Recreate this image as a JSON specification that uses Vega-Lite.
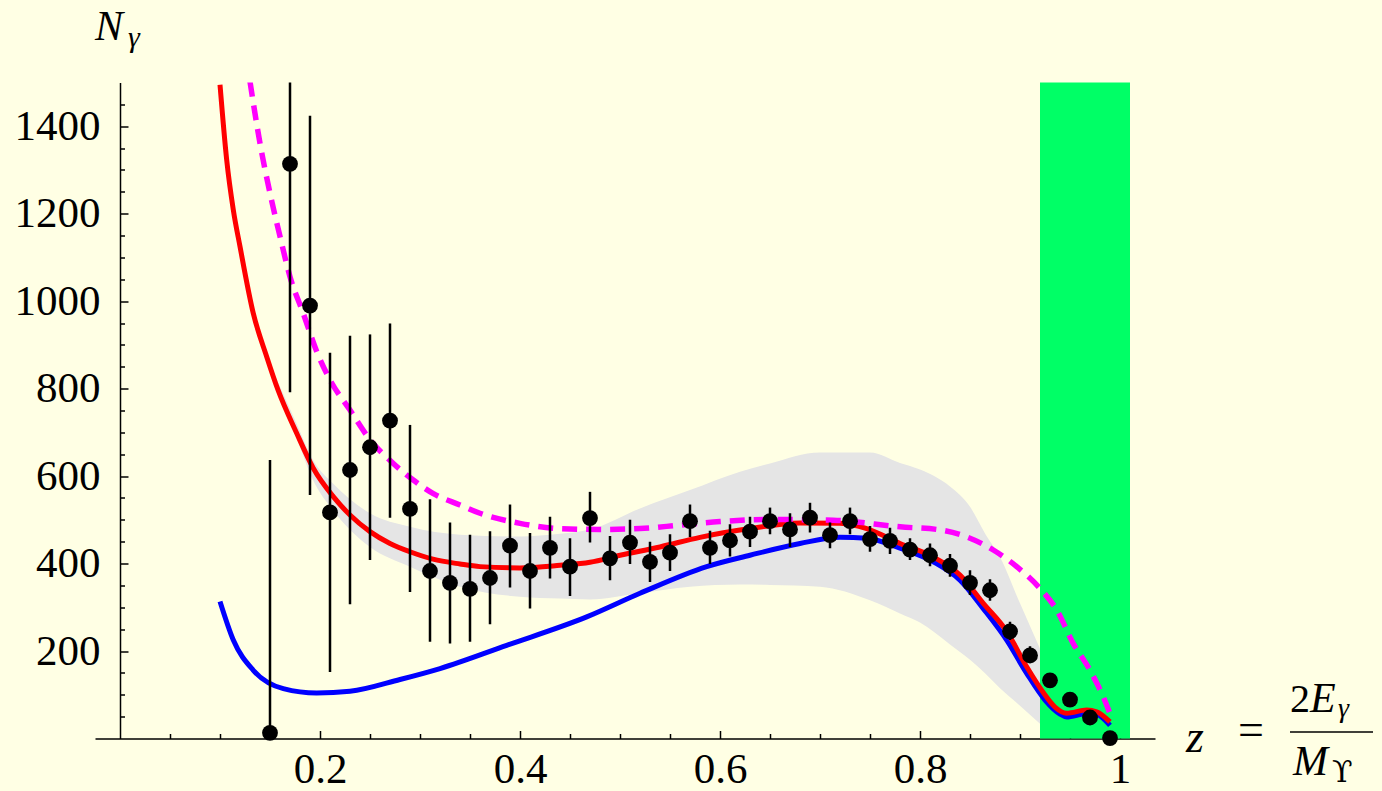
{
  "$schema": "https://vega.github.io/schema/vega-lite/v6.json",
  "width": 1060,
  "height": 656,
  "autosize": "none",
  "padding": {"left": 95, "top": 82.5, "right": 227, "bottom": 52.5},
  "background": "#ffffe4",
  "config": {"view": {"stroke": null}, "font": "Liberation Serif"},
  "resolve": {"axis": {"x": "independent", "y": "independent"}},
  "datasets": {
    "points": [
      {"z": 0.15, "n": 13, "lo": -611, "hi": 637},
      {"z": 0.17, "n": 1314, "lo": 792, "hi": 1836},
      {"z": 0.19, "n": 990, "lo": 557, "hi": 1424},
      {"z": 0.21, "n": 517, "lo": 152, "hi": 882},
      {"z": 0.23, "n": 614, "lo": 307, "hi": 921},
      {"z": 0.25, "n": 666, "lo": 408, "hi": 924},
      {"z": 0.27, "n": 727, "lo": 505, "hi": 949},
      {"z": 0.29, "n": 525, "lo": 335, "hi": 717},
      {"z": 0.31, "n": 383, "lo": 221, "hi": 547},
      {"z": 0.33, "n": 356, "lo": 217, "hi": 494},
      {"z": 0.35, "n": 342, "lo": 221, "hi": 466},
      {"z": 0.37, "n": 367, "lo": 261, "hi": 474},
      {"z": 0.39, "n": 441, "lo": 345, "hi": 535},
      {"z": 0.41, "n": 383, "lo": 297, "hi": 470},
      {"z": 0.43, "n": 436, "lo": 366, "hi": 507},
      {"z": 0.45, "n": 393, "lo": 326, "hi": 458},
      {"z": 0.47, "n": 504, "lo": 448, "hi": 564},
      {"z": 0.49, "n": 412, "lo": 362, "hi": 463},
      {"z": 0.51, "n": 448, "lo": 399, "hi": 500},
      {"z": 0.53, "n": 404, "lo": 358, "hi": 450},
      {"z": 0.55, "n": 425, "lo": 383, "hi": 467},
      {"z": 0.57, "n": 497, "lo": 461, "hi": 535},
      {"z": 0.59, "n": 436, "lo": 399, "hi": 475},
      {"z": 0.61, "n": 453, "lo": 416, "hi": 490},
      {"z": 0.63, "n": 473, "lo": 438, "hi": 507},
      {"z": 0.65, "n": 497, "lo": 467, "hi": 528},
      {"z": 0.67, "n": 478, "lo": 438, "hi": 515},
      {"z": 0.69, "n": 505, "lo": 471, "hi": 539},
      {"z": 0.71, "n": 465, "lo": 435, "hi": 494},
      {"z": 0.73, "n": 497, "lo": 467, "hi": 528},
      {"z": 0.75, "n": 456, "lo": 427, "hi": 486},
      {"z": 0.77, "n": 452, "lo": 422, "hi": 482},
      {"z": 0.79, "n": 432, "lo": 408, "hi": 458},
      {"z": 0.81, "n": 419, "lo": 394, "hi": 446},
      {"z": 0.83, "n": 395, "lo": 370, "hi": 422},
      {"z": 0.85, "n": 356, "lo": 328, "hi": 385},
      {"z": 0.87, "n": 339, "lo": 315, "hi": 364},
      {"z": 0.89, "n": 245, "lo": 225, "hi": 267},
      {"z": 0.91, "n": 190, "lo": 172, "hi": 211},
      {"z": 0.93, "n": 133, "lo": 125, "hi": 141},
      {"z": 0.95, "n": 89, "lo": 82, "hi": 96},
      {"z": 0.97, "n": 48, "lo": 42, "hi": 54},
      {"z": 0.99, "n": 1, "lo": -4, "hi": 6}
    ],
    "band": [
      {"z": 0.155, "lo": 800, "hi": 830},
      {"z": 0.177, "lo": 685, "hi": 718},
      {"z": 0.193, "lo": 591, "hi": 637},
      {"z": 0.213, "lo": 522, "hi": 583},
      {"z": 0.25, "lo": 438, "hi": 515},
      {"z": 0.29, "lo": 393, "hi": 484},
      {"z": 0.34, "lo": 347, "hi": 466},
      {"z": 0.4, "lo": 324, "hi": 462},
      {"z": 0.44, "lo": 320, "hi": 468},
      {"z": 0.47, "lo": 318, "hi": 478},
      {"z": 0.52, "lo": 332, "hi": 526},
      {"z": 0.57, "lo": 347, "hi": 568},
      {"z": 0.62, "lo": 352, "hi": 610},
      {"z": 0.65, "lo": 351, "hi": 629},
      {"z": 0.7, "lo": 347, "hi": 654},
      {"z": 0.75, "lo": 316, "hi": 654},
      {"z": 0.78, "lo": 286, "hi": 630},
      {"z": 0.8, "lo": 265, "hi": 615},
      {"z": 0.83, "lo": 215, "hi": 576},
      {"z": 0.85, "lo": 180, "hi": 530},
      {"z": 0.865, "lo": 149, "hi": 469},
      {"z": 0.88, "lo": 115, "hi": 415},
      {"z": 0.9, "lo": 75, "hi": 309},
      {"z": 0.92, "lo": 34, "hi": 205}
    ],
    "window": [{"z0": 0.92, "z1": 1.01}],
    "curves": [
      {"model": "full", "z": 0.1, "n": 1495},
      {"model": "full", "z": 0.1067, "n": 1323},
      {"model": "full", "z": 0.1133, "n": 1209},
      {"model": "full", "z": 0.12, "n": 1125},
      {"model": "full", "z": 0.1333, "n": 972},
      {"model": "full", "z": 0.1467, "n": 873},
      {"model": "full", "z": 0.158, "n": 797},
      {"model": "full", "z": 0.1767, "n": 698},
      {"model": "full", "z": 0.1933, "n": 618},
      {"model": "full", "z": 0.2133, "n": 553},
      {"model": "full", "z": 0.23, "n": 511},
      {"model": "full", "z": 0.25, "n": 473},
      {"model": "full", "z": 0.27, "n": 446},
      {"model": "full", "z": 0.29, "n": 427},
      {"model": "full", "z": 0.313, "n": 410},
      {"model": "full", "z": 0.34, "n": 399},
      {"model": "full", "z": 0.36, "n": 393},
      {"model": "full", "z": 0.4, "n": 390},
      {"model": "full", "z": 0.44, "n": 396},
      {"model": "full", "z": 0.47, "n": 403},
      {"model": "full", "z": 0.5, "n": 419},
      {"model": "full", "z": 0.54, "n": 438},
      {"model": "full", "z": 0.58, "n": 460},
      {"model": "full", "z": 0.63, "n": 480},
      {"model": "full", "z": 0.68, "n": 493},
      {"model": "full", "z": 0.72, "n": 492},
      {"model": "full", "z": 0.7467, "n": 480},
      {"model": "full", "z": 0.78, "n": 446},
      {"model": "full", "z": 0.8133, "n": 415},
      {"model": "full", "z": 0.84, "n": 374},
      {"model": "full", "z": 0.8633, "n": 309},
      {"model": "full", "z": 0.8867, "n": 245},
      {"model": "full", "z": 0.9067, "n": 164},
      {"model": "full", "z": 0.9233, "n": 105},
      {"model": "full", "z": 0.935, "n": 72},
      {"model": "full", "z": 0.9467, "n": 58},
      {"model": "full", "z": 0.9667, "n": 65},
      {"model": "full", "z": 0.9767, "n": 61},
      {"model": "full", "z": 0.99, "n": 38},
      {"model": "singlet", "z": 0.1, "n": 313},
      {"model": "singlet", "z": 0.1133, "n": 225},
      {"model": "singlet", "z": 0.1333, "n": 156},
      {"model": "singlet", "z": 0.1633, "n": 114},
      {"model": "singlet", "z": 0.1967, "n": 104},
      {"model": "singlet", "z": 0.23, "n": 108},
      {"model": "singlet", "z": 0.28, "n": 135},
      {"model": "singlet", "z": 0.32, "n": 160},
      {"model": "singlet", "z": 0.3867, "n": 213},
      {"model": "singlet", "z": 0.4667, "n": 278},
      {"model": "singlet", "z": 0.52, "n": 332},
      {"model": "singlet", "z": 0.5867, "n": 393},
      {"model": "singlet", "z": 0.63, "n": 419},
      {"model": "singlet", "z": 0.68, "n": 446},
      {"model": "singlet", "z": 0.72, "n": 460},
      {"model": "singlet", "z": 0.7467, "n": 458},
      {"model": "singlet", "z": 0.78, "n": 435},
      {"model": "singlet", "z": 0.8133, "n": 404},
      {"model": "singlet", "z": 0.84, "n": 362},
      {"model": "singlet", "z": 0.8633, "n": 297},
      {"model": "singlet", "z": 0.8867, "n": 225},
      {"model": "singlet", "z": 0.9067, "n": 149},
      {"model": "singlet", "z": 0.925, "n": 88},
      {"model": "singlet", "z": 0.94, "n": 56},
      {"model": "singlet", "z": 0.9467, "n": 49},
      {"model": "singlet", "z": 0.9667, "n": 57},
      {"model": "singlet", "z": 0.9767, "n": 55},
      {"model": "singlet", "z": 0.99, "n": 30},
      {"model": "octet", "z": 0.13, "n": 1502},
      {"model": "octet", "z": 0.14, "n": 1361},
      {"model": "octet", "z": 0.15, "n": 1247},
      {"model": "octet", "z": 0.16, "n": 1148},
      {"model": "octet", "z": 0.17, "n": 1056},
      {"model": "octet", "z": 0.1833, "n": 972},
      {"model": "octet", "z": 0.1967, "n": 885},
      {"model": "octet", "z": 0.21, "n": 820},
      {"model": "octet", "z": 0.23, "n": 751},
      {"model": "octet", "z": 0.25, "n": 683},
      {"model": "octet", "z": 0.2733, "n": 629},
      {"model": "octet", "z": 0.2933, "n": 591},
      {"model": "octet", "z": 0.3133, "n": 560},
      {"model": "octet", "z": 0.34, "n": 534},
      {"model": "octet", "z": 0.36, "n": 515},
      {"model": "octet", "z": 0.4, "n": 492},
      {"model": "octet", "z": 0.44, "n": 480},
      {"model": "octet", "z": 0.48, "n": 478},
      {"model": "octet", "z": 0.52, "n": 480},
      {"model": "octet", "z": 0.56, "n": 488},
      {"model": "octet", "z": 0.6, "n": 496},
      {"model": "octet", "z": 0.6467, "n": 501},
      {"model": "octet", "z": 0.7133, "n": 499},
      {"model": "octet", "z": 0.78, "n": 484},
      {"model": "octet", "z": 0.82, "n": 477},
      {"model": "octet", "z": 0.8467, "n": 461},
      {"model": "octet", "z": 0.8733, "n": 431},
      {"model": "octet", "z": 0.8967, "n": 393},
      {"model": "octet", "z": 0.92, "n": 343},
      {"model": "octet", "z": 0.9367, "n": 294},
      {"model": "octet", "z": 0.9533, "n": 217},
      {"model": "octet", "z": 0.97, "n": 156},
      {"model": "octet", "z": 0.9833, "n": 95},
      {"model": "octet", "z": 0.99, "n": 57}
    ]
  },
  "layer": [
    {
      "data": {"name": "band"},
      "mark": {"type": "area", "color": "#e5e5e5", "interpolate": "monotone"},
      "encoding": {
        "x": {
          "field": "z", "type": "quantitative",
          "scale": {"domain": [-0.025, 1.035], "nice": false, "zero": false},
          "axis": {
            "title": null, "grid": false, "orient": "bottom",
            "values": [0.2, 0.4, 0.6, 0.8, 1.0], "format": ".1~f",
            "domainColor": "black", "domainWidth": 1.5,
            "tickColor": "black", "tickWidth": 1.5, "tickSize": -8,
            "labelFont": "Liberation Serif", "labelFontSize": 43, "labelColor": "black",
            "labelPadding": 18, "labelFlush": false, "labelOverlap": false, "labelBound": false
          }
        },
        "y": {
          "field": "lo", "type": "quantitative",
          "scale": {"domain": [0, 1500], "nice": false, "zero": false},
          "axis": {
            "title": null, "grid": false, "orient": "left", "offset": -25,
            "values": [200, 400, 600, 800, 1000, 1200, 1400], "format": "d",
            "domainColor": "black", "domainWidth": 1.5,
            "tickColor": "black", "tickWidth": 1.5, "tickSize": -8,
            "labelFont": "Liberation Serif", "labelFontSize": 43, "labelColor": "black",
            "labelPadding": 28, "labelOverlap": false, "labelBound": false, "labelFlush": false
          }
        },
        "y2": {"field": "hi"}
      }
    },
    {
      "data": {"name": "window"},
      "mark": {"type": "rect", "color": "#00ff66"},
      "encoding": {
        "x": {"field": "z0", "type": "quantitative", "axis": null},
        "x2": {"field": "z1"}
      }
    },
    {
      "data": {"name": "curves"},
      "transform": [{"filter": "datum.model === 'singlet'"}],
      "mark": {"type": "line", "color": "#0000ff", "strokeWidth": 5, "interpolate": "monotone", "clip": true},
      "encoding": {
        "x": {
          "field": "z", "type": "quantitative",
          "axis": {
            "title": null, "grid": false, "orient": "bottom", "domain": false, "labels": false,
            "values": [0.05, 0.1, 0.15, 0.25, 0.3, 0.35, 0.45, 0.5, 0.55, 0.65, 0.7, 0.75, 0.85, 0.9, 0.95],
            "tickColor": "black", "tickWidth": 1.5, "tickSize": -5
          }
        },
        "y": {
          "field": "n", "type": "quantitative",
          "axis": {
            "title": null, "grid": false, "orient": "left", "offset": -25, "domain": false, "labels": false,
            "values": [50, 100, 150, 250, 300, 350, 450, 500, 550, 650, 700, 750, 850, 900, 950, 1050, 1100, 1150, 1250, 1300, 1350, 1450],
            "tickColor": "black", "tickWidth": 1.5, "tickSize": -4.5
          }
        }
      }
    },
    {
      "data": {"name": "curves"},
      "transform": [{"filter": "datum.model === 'full'"}],
      "mark": {"type": "line", "color": "#ff0000", "strokeWidth": 5, "interpolate": "monotone", "clip": true},
      "encoding": {
        "x": {"field": "z", "type": "quantitative", "axis": null},
        "y": {"field": "n", "type": "quantitative", "axis": null}
      }
    },
    {
      "data": {"name": "curves"},
      "transform": [{"filter": "datum.model === 'octet'"}],
      "mark": {"type": "line", "color": "#ff00ff", "strokeWidth": 5.5, "strokeDash": [15, 9], "interpolate": "monotone", "clip": true},
      "encoding": {
        "x": {"field": "z", "type": "quantitative", "axis": null},
        "y": {"field": "n", "type": "quantitative", "axis": null}
      }
    },
    {
      "data": {"name": "points"},
      "mark": {"type": "rule", "color": "black", "strokeWidth": 2.5, "clip": true},
      "encoding": {
        "x": {"field": "z", "type": "quantitative", "axis": null},
        "y": {"field": "lo", "type": "quantitative", "axis": null},
        "y2": {"field": "hi"}
      }
    },
    {
      "data": {"name": "points"},
      "mark": {"type": "point", "filled": true, "shape": "circle", "color": "black", "opacity": 1, "size": 250},
      "encoding": {
        "x": {"field": "z", "type": "quantitative", "axis": null},
        "y": {"field": "n", "type": "quantitative", "axis": null}
      }
    },
    {
      "data": {"values": [{}]},
      "mark": {"type": "text", "text": "N", "font": "Liberation Serif", "fontStyle": "italic", "fontSize": 42, "align": "left", "baseline": "alphabetic", "color": "black"},
      "encoding": {"x": {"datum": -0.025, "axis": null}, "y": {"datum": 1598, "axis": null}}
    },
    {
      "data": {"values": [{}]},
      "mark": {"type": "text", "text": "γ", "font": "Liberation Serif", "fontStyle": "italic", "fontSize": 30, "align": "left", "baseline": "alphabetic", "color": "black"},
      "encoding": {"x": {"datum": 0.008, "axis": null}, "y": {"datum": 1582, "axis": null}}
    },
    {
      "data": {"values": [{}]},
      "mark": {"type": "text", "text": "z", "font": "Liberation Serif", "fontStyle": "italic", "fontSize": 46, "align": "left", "baseline": "alphabetic", "color": "black"},
      "encoding": {"x": {"datum": 1.066, "axis": null}, "y": {"datum": -31, "axis": null}}
    },
    {
      "data": {"values": [{}]},
      "mark": {"type": "text", "text": "=", "font": "Liberation Serif", "fontSize": 46, "align": "center", "baseline": "alphabetic", "color": "black"},
      "encoding": {"x": {"datum": 1.131, "axis": null}, "y": {"datum": -16, "axis": null}}
    },
    {
      "data": {"values": [{}]},
      "mark": {"type": "text", "text": "2", "font": "Liberation Serif", "fontSize": 40, "align": "left", "baseline": "alphabetic", "color": "black"},
      "encoding": {"x": {"datum": 1.17, "axis": null}, "y": {"datum": 60, "axis": null}}
    },
    {
      "data": {"values": [{}]},
      "mark": {"type": "text", "text": "E", "font": "Liberation Serif", "fontStyle": "italic", "fontSize": 42, "align": "left", "baseline": "alphabetic", "color": "black"},
      "encoding": {"x": {"datum": 1.19, "axis": null}, "y": {"datum": 60, "axis": null}}
    },
    {
      "data": {"values": [{}]},
      "mark": {"type": "text", "text": "γ", "font": "Liberation Serif", "fontStyle": "italic", "fontSize": 28, "align": "left", "baseline": "alphabetic", "color": "black"},
      "encoding": {"x": {"datum": 1.218, "axis": null}, "y": {"datum": 49, "axis": null}}
    },
    {
      "data": {"values": [{}]},
      "mark": {"type": "rule", "color": "black", "strokeWidth": 1.5},
      "encoding": {"x": {"datum": 1.17, "axis": null}, "x2": {"datum": 1.253}, "y": {"datum": 15, "axis": null}}
    },
    {
      "data": {"values": [{}]},
      "mark": {"type": "text", "text": "M", "font": "Liberation Serif", "fontStyle": "italic", "fontSize": 42, "align": "left", "baseline": "alphabetic", "color": "black"},
      "encoding": {"x": {"datum": 1.173, "axis": null}, "y": {"datum": -84, "axis": null}}
    },
    {
      "data": {"values": [{}]},
      "mark": {"type": "text", "text": "ϒ", "font": "DejaVu Serif", "fontSize": 30, "align": "left", "baseline": "alphabetic", "color": "black"},
      "encoding": {"x": {"datum": 1.212, "axis": null}, "y": {"datum": -100, "axis": null}}
    }
  ]
}
